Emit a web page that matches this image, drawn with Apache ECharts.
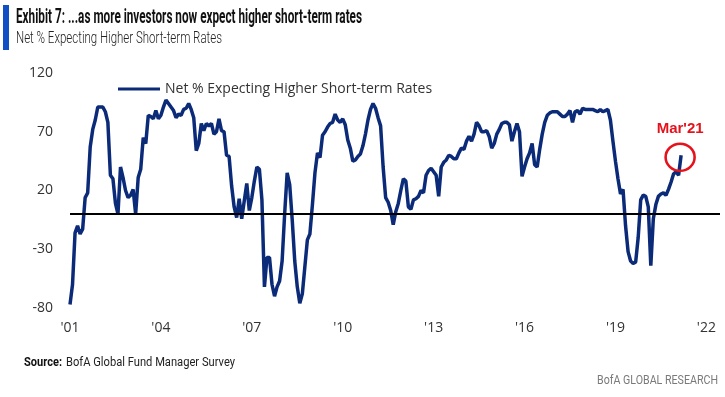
<!DOCTYPE html>
<html>
<head>
<meta charset="utf-8">
<script src="https://cdn.jsdelivr.net/npm/echarts@6/dist/echarts.min.js"></script>
<style>
  html, body { margin: 0; padding: 0; background: #fff; }
  #chart { width: 725px; height: 397px; }
</style>
</head>
<body>
<div id="chart"></div>
<script>
// net % of FMS investors expecting higher short-term rates, monthly, Jan'01 - Mar'21
var startYear = 2001;
var v2001 = [-77, -60, -16, -10, -17, -13, 14, 18, 57, 72, 80, 91];
var v2002 = [91, 91, 87, 78, 33, 30, 9, 0, 40, 31, 20, 14];
var v2003 = [16, 21, 0, 31, 38, 65, 60, 84, 83, 81, 88, 81];
var v2004 = [84, 91, 97, 94, 91, 88, 82, 85, 84, 89, 90, 94];
var v2005 = [89, 82, 54, 60, 77, 71, 77, 75, 77, 68, 70, 81];
var v2006 = [71, 70, 50, 49, 24, 6, -3, 13, -4, 11, 26, 3];
var v2007 = [14, 28, 40, 38, 12, -62, -37, -37, -60, -70, -62, -57];
var v2008 = [-40, 0, 35, 25, -5, -40, -62, -76, -68, -45, -22, -17];
var v2009 = [8, 35, 52, 48, 67, 70, 74, 77, 78, 85, 80, 78];
var v2010 = [81, 76, 63, 56, 45, 46, 49, 51, 58, 68, 80, 89];
var v2011 = [94, 90, 82, 75, 40, 14, 10, 3, -9, 2, 9, 20];
var v2012 = [30, 28, 6, 4, 12, 13, 15, 20, 18, 33, 37, 39];
var v2013 = [36, 33, 15, 40, 44, 46, 50, 49, 47, 47, 52, 56];
var v2014 = [55, 62, 66, 62, 68, 78, 75, 70, 70, 71, 66, 56];
var v2015 = [60, 68, 72, 77, 78, 78, 76, 62, 70, 77, 70, 32];
var v2016 = [40, 47, 52, 60, 42, 40, 55, 68, 78, 84, 86, 87];
var v2017 = [87, 87, 85, 83, 83, 85, 88, 78, 87, 88, 85, 90];
var v2018 = [89, 89, 89, 89, 88, 87, 89, 87, 88, 89, 80, 62];
var v2019 = [45, 30, 17, 21, -10, -32, -40, -42, -41, -20, 12, 16];
var v2020 = [15, 6, -44, -4, 8, 15, 17, 18, 16, 21, 27, 34];
var v2021 = [36, 33, 50];

var yearly = [v2001, v2002, v2003, v2004, v2005, v2006, v2007, v2008, v2009, v2010, v2011,
              v2012, v2013, v2014, v2015, v2016, v2017, v2018, v2019, v2020, v2021];

var seriesName = 'Net % Expecting Higher Short-term Rates';
var lastLabel = "Mar'21";

var points = [];
for (var i = 0; i < yearly.length; i++) {
  for (var j = 0; j < yearly[i].length; j++) {
    points.push([startYear + i + j / 12, yearly[i][j]]);
  }
}
var lastPoint = points[points.length - 1];

// squeeze text into the width it takes in the original (condensed house font)
var ctx = document.createElement('canvas').getContext('2d');
function fit(text, font, width) {
  ctx.font = font;
  return width / ctx.measureText(text).width;
}

var titleFont = 'bold 20px Roboto';
var subFont = '300 17px Roboto';
var srcBold = 'bold 12px Roboto';
var srcFont = '12px Roboto';
var titleText = 'Exhibit 7: ...as more investors now expect higher short-term rates';
var subText = 'Net % Expecting Higher Short-term Rates';
var srcText = 'BofA Global Fund Manager Survey';
var brandText = 'BofA GLOBAL RESEARCH';

var chart = echarts.init(document.getElementById('chart'));

chart.setOption({
  animation: false,
  grid: { left: 70, right: 5, top: 73, bottom: 89 },
  legend: {
    left: 113,
    top: 77,
    icon: 'rect',
    itemWidth: 42,
    itemHeight: 3,
    textStyle: { fontFamily: 'Open Sans', fontSize: 14, color: '#333' },
    data: [seriesName]
  },
  xAxis: {
    type: 'value',
    min: 2001,
    max: 2022.45,
    interval: 3,
    axisLine: { show: false },
    axisTick: { show: false },
    splitLine: { show: false },
    axisLabel: {
      margin: 13,
      fontFamily: 'Open Sans',
      fontSize: 14,
      color: '#333',
      formatter: function (v) {
        if (v % 1 !== 0) return '';
        return "'" + String(v).slice(2);
      }
    }
  },
  yAxis: {
    type: 'value',
    min: -80,
    max: 120,
    interval: 50,
    axisLine: { show: false },
    axisTick: { show: false },
    splitLine: { show: false },
    axisLabel: { margin: 17, fontFamily: 'Open Sans', fontSize: 14, color: '#333' }
  },
  series: [{
    name: seriesName,
    type: 'line',
    data: points,
    symbol: 'none',
    lineStyle: { color: '#0b2b78', width: 3.5 },
    itemStyle: { color: '#0b2b78' },
    markLine: {
      silent: true,
      symbol: 'none',
      label: { show: false },
      lineStyle: { color: '#000', width: 1.8, type: 'solid' },
      data: [{ yAxis: 0 }]
    },
    markPoint: {
      silent: true,
      symbol: 'circle',
      symbolSize: [29, 27],
      symbolOffset: [-1, 2],
      itemStyle: { color: 'rgba(0,0,0,0)', borderColor: '#e5121c', borderWidth: 2.5 },
      label: {
        show: true,
        position: 'top',
        distance: 6,
        formatter: lastLabel,
        color: '#e5121c',
        fontFamily: 'Liberation Sans',
        fontWeight: 'bold',
        fontSize: 15
      },
      data: [{ coord: lastPoint }]
    }
  }],
  graphic: [
    { type: 'rect', left: 3, top: 5, shape: { width: 6, height: 45 }, style: { fill: '#1150c4' } },
    {
      type: 'text', x: 16, y: 18, scaleX: fit(titleText, titleFont, 346),
      style: { text: titleText, font: titleFont, fill: '#111', textVerticalAlign: 'middle' }
    },
    {
      type: 'text', x: 16, y: 39, scaleX: fit(subText, subFont, 206),
      style: { text: subText, font: subFont, fill: '#222', textVerticalAlign: 'middle' }
    },
    {
      type: 'text', x: 24, y: 363, scaleX: fit('Source:', srcBold, 38),
      style: { text: 'Source:', font: srcBold, fill: '#111', textVerticalAlign: 'middle' }
    },
    {
      type: 'text', x: 66, y: 363, scaleX: fit(srcText, srcFont, 169),
      style: { text: srcText, font: srcFont, fill: '#222', textVerticalAlign: 'middle' }
    },
    {
      type: 'text', x: 597, y: 381, scaleX: fit(brandText, srcFont, 121),
      style: { text: brandText, font: srcFont, fill: '#7a7a7a', textVerticalAlign: 'middle' }
    }
  ]
});
</script>
</body>
</html>
